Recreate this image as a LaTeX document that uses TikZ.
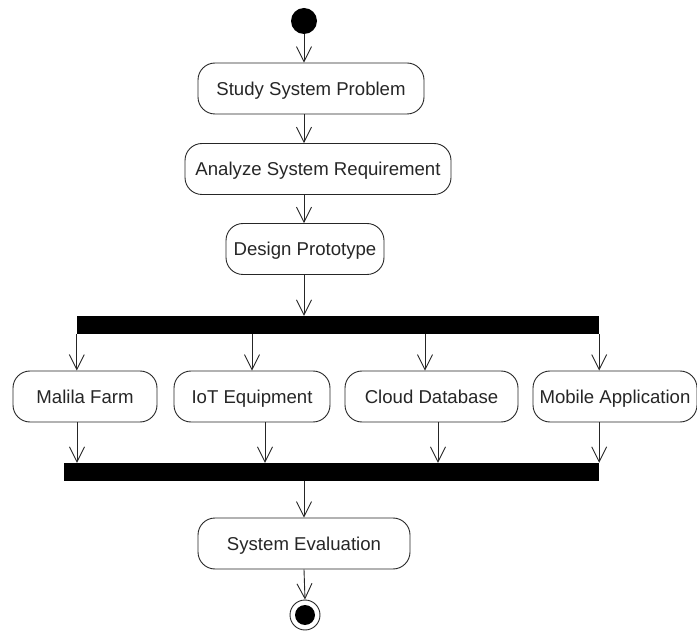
\documentclass[tikz,border=0pt]{standalone}
\usepackage{fontspec}
\setmainfont{Liberation Sans}
\usetikzlibrary{arrows.meta}
\begin{document}
\begin{tikzpicture}[x=1pt, y=-1pt,
  act/.style={draw=black!85, line width=0.9pt, rounded corners=17pt,
    minimum height=51pt, inner sep=0pt, text=black!85,
    text height=13.3pt, text depth=0pt,
    font=\fontsize{18.6}{21}\selectfont},
  bar/.style={fill=black, draw=none, inner sep=0pt, minimum height=18pt},
  arr/.style={draw=black!85, line width=0.9pt,
    -{Straight Barb[length=15pt, width=15pt, line width=0.9pt]}}]
\useasboundingbox (0,0) rectangle (697,639);

% initial node
\node[circle, fill=black, inner sep=0pt, minimum size=26pt] (start) at (304,21) {};

% sequential actions
\node[act, minimum width=226pt] (study)   at (311,88.5)  {Study System Problem};
\node[act, minimum width=266pt] (analyze) at (318,169)   {Analyze System Requirement};
\node[act, minimum width=158pt] (design)  at (305,249)   {Design Prototype};

% fork bar
\node[bar, minimum width=522pt] (fork) at (338,325) {};

% parallel actions
\node[act, minimum width=144pt] (farm)   at (85,396.5)  {Malila Farm};
\node[act, minimum width=156pt] (iot)    at (252,396.5) {IoT Equipment};
\node[act, minimum width=173pt] (cloud)  at (431.5,396.5) {Cloud Database};
\node[act, minimum width=164pt] (mobile) at (615,396.5) {Mobile Application};

% join bar
\node[bar, minimum width=535pt] (join) at (331.5,472) {};

% evaluation and final node
\node[act, minimum width=212pt] (eval) at (304,543.5) {System Evaluation};
\node[circle, draw=black!85, line width=0.9pt, inner sep=0pt, minimum size=30pt] (final) at (305,615) {};
\node[circle, fill=black, inner sep=0pt, minimum size=20pt] (finaldot) at (final.center) {};

% control flow
\draw[arr] (start.south) -- (start.south |- study.north);
\draw[arr] (start |- study.south) -- (start |- analyze.north);
\draw[arr] (start |- analyze.south) -- (start |- design.north);
\draw[arr] (start |- design.south) -- (start |- fork.north);

\draw[arr] (fork.south west) -- (fork.west |- farm.north);
\draw[arr] (fork.south -| iot.north) -- (iot.north);
\draw[arr] ([xshift=-6.5pt]cloud.north |- fork.south) -- ([xshift=-6.5pt]cloud.north);
\draw[arr] (fork.south east) -- (fork.east |- mobile.north);

\draw[arr] ([xshift=-8pt]farm.south) -- ([xshift=-8pt]farm.south |- join.north);
\draw[arr] ([xshift=13pt]iot.south) -- ([xshift=13pt]iot.south |- join.north);
\draw[arr] ([xshift=6.5pt]cloud.south) -- ([xshift=6.5pt]cloud.south |- join.north);
\draw[arr] (join.east |- mobile.south) -- (join.north east);

\draw[arr] (start |- join.south) -- (start |- eval.north);
\draw[arr] (start |- eval.south) -- (final.north);
\end{tikzpicture}
\end{document}
